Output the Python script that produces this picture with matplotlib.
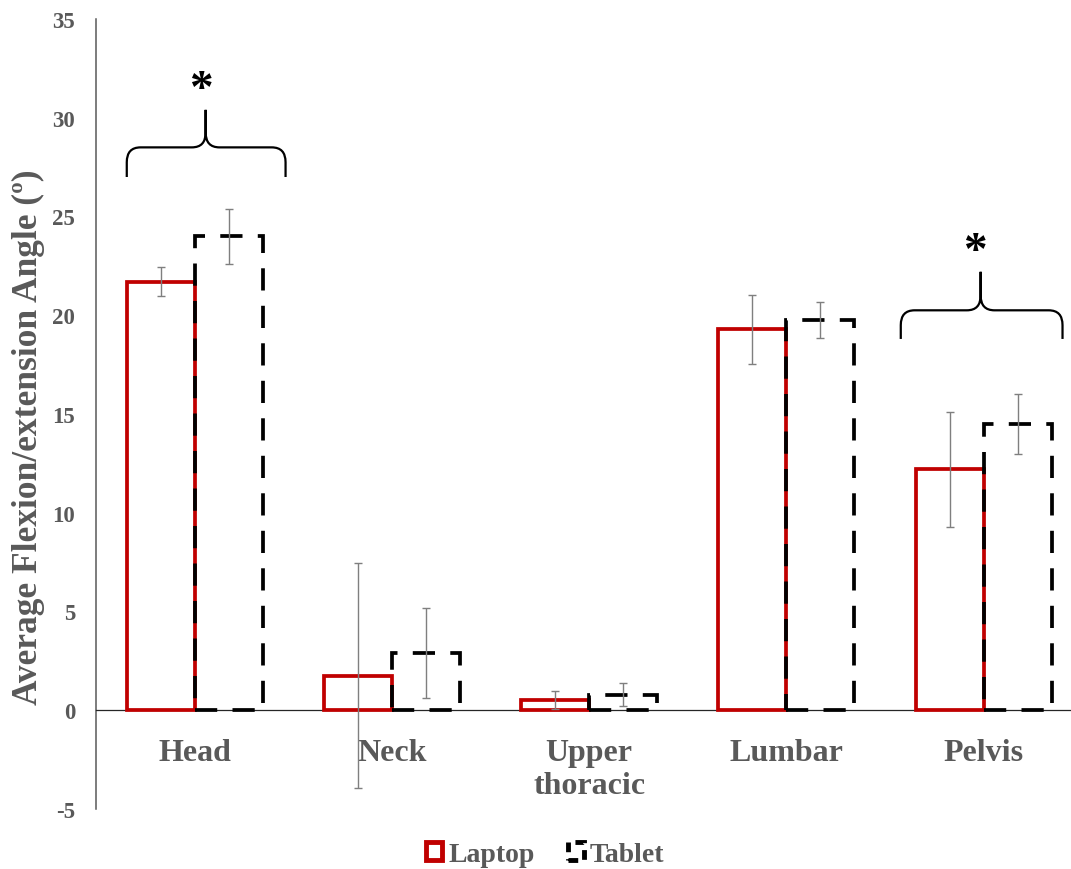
import matplotlib
matplotlib.use("Agg")
import matplotlib.pyplot as plt
import numpy as np
from matplotlib.path import Path
from matplotlib.patches import PathPatch, Patch

# mean flexion/extension angle per body segment (deg) with SD
regions = ["Head", "Neck", "Upper\nthoracic", "Lumbar", "Pelvis"]
laptop = [21.7, 1.75, 0.53, 19.3, 12.2]
laptop_sd = [0.75, 5.7, 0.45, 1.75, 2.9]
tablet = [24.0, 2.9, 0.79, 19.75, 14.5]
tablet_sd = [1.4, 2.3, 0.57, 0.9, 1.5]

GRAY = "#595959"
RED = "#C00000"
plt.rcParams["font.family"] = ["Liberation Serif", "DejaVu Serif"]
plt.rcParams["font.weight"] = "bold"
plt.rcParams["axes.unicode_minus"] = False
plt.rcParams["lines.scale_dashes"] = False
DASH = (0, (16, 11))

fig = plt.figure(figsize=(10.71, 8.70), dpi=100)
ax = fig.add_axes([96 / 1071, 60 / 870, 975 / 1071, 790 / 870])

x = np.arange(len(regions))
w = 0.345
ax.bar(x - w / 2, laptop, w, fill=False, edgecolor=RED, lw=2.7, zorder=3)
ax.bar(x + w / 2, tablet, w, fill=False, edgecolor="black", lw=2.7,
       linestyle=DASH, zorder=3)
ax.errorbar(x - w / 2, laptop, yerr=laptop_sd, fmt="none", ecolor="#7f7f7f",
            elinewidth=1, capsize=3, capthick=1, zorder=4)
ax.errorbar(x + w / 2, tablet, yerr=tablet_sd, fmt="none", ecolor="#7f7f7f",
            elinewidth=1, capsize=3, capthick=1, zorder=4)


def brace(ax, x0, x1, xc, ytip, yh, ypk, rx=0.07, ry=0.75):
    verts = [(x0, ytip), (x0, yh - ry), (x0, yh), (x0 + rx, yh),
             (xc - rx, yh), (xc, yh), (xc, yh + ry), (xc, ypk),
             (xc, yh + ry), (xc, yh), (xc + rx, yh),
             (x1 - rx, yh), (x1, yh), (x1, yh - ry), (x1, ytip)]
    codes = [Path.MOVETO, Path.LINETO, Path.CURVE3, Path.CURVE3,
             Path.LINETO, Path.CURVE3, Path.CURVE3, Path.LINETO,
             Path.LINETO, Path.CURVE3, Path.CURVE3,
             Path.LINETO, Path.CURVE3, Path.CURVE3, Path.LINETO]
    ax.add_patch(PathPatch(Path(verts, codes), fill=False, lw=1.6,
                           edgecolor="black", capstyle="butt", zorder=5))


# braces span each significant pair, star sits above the cusp
brace(ax, -0.344, 0.461, 0.056, 27.0, 28.5, 30.4)
ax.text(0.03, 31.4, "*", ha="center", va="center", fontsize=34, color="black")
brace(ax, 3.58, 4.40, 3.985, 18.8, 20.25, 22.2)
ax.text(3.956, 23.2, "*", ha="center", va="center", fontsize=34, color="black")

ax.set_xlim(-0.5, 4.443)
ax.set_ylim(-5, 35)
ax.set_yticks(range(-5, 36, 5))
ax.set_xticks(x, regions)
ax.tick_params(axis="y", length=0, pad=15, labelsize=16.5, labelcolor=GRAY)
ax.tick_params(axis="x", length=0, pad=20, labelsize=23, labelcolor=GRAY)
plt.setp(ax.get_xticklabels(), linespacing=1.3)

for s in ("top", "right"):
    ax.spines[s].set_visible(False)
ax.spines["bottom"].set_position(("data", 0))
ax.spines["bottom"].set_color("#262626")
ax.spines["bottom"].set_linewidth(0.9)
ax.spines["left"].set_color(GRAY)
ax.spines["left"].set_linewidth(1.1)

ax.set_ylabel("Average Flexion/extension Angle (º)", fontsize=25.5,
              fontweight="bold", color=GRAY)
ax.yaxis.set_label_coords(-0.052, 0.4715)

handles = [Patch(facecolor="white", edgecolor=RED, lw=3.5),
           Patch(facecolor="white", edgecolor="black", lw=3.5, linestyle=(0, (7, 5)))]
fig.legend(handles, ["Laptop", "Tablet"], loc="center", bbox_to_anchor=(0.509, 0.017),
           ncol=2, frameon=False, fontsize=20, labelcolor=GRAY,
           handlelength=0.6, handleheight=0.6, handletextpad=0.2, columnspacing=1.2)

fig.savefig("out.png", dpi=100, facecolor="white")
